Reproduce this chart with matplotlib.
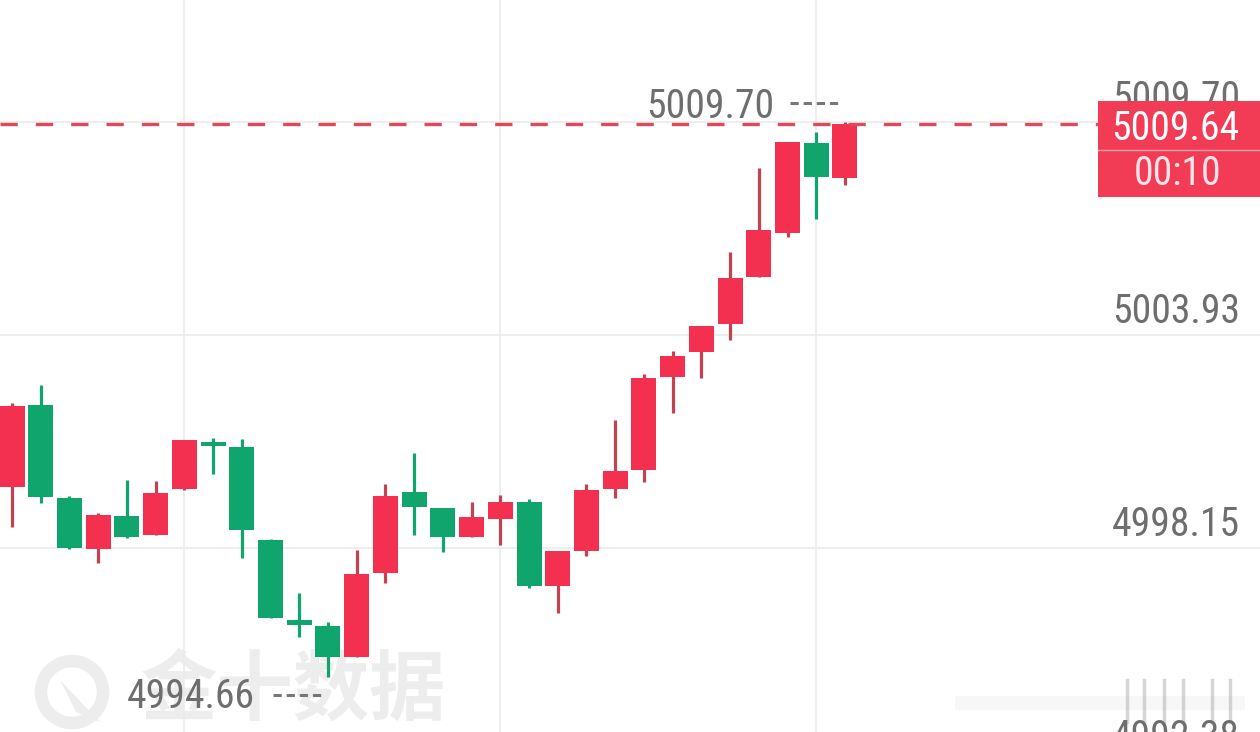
import matplotlib
matplotlib.use("Agg")
import matplotlib.pyplot as plt
from matplotlib import font_manager
from matplotlib.lines import Line2D
from matplotlib.patches import Rectangle, Ellipse, Polygon
from matplotlib.transforms import blended_transform_factory, IdentityTransform

# 1-minute candles, oldest first
opens = [4999.81, 5002.03, 4999.51, 4998.13, 4999.02, 4998.51, 4999.76, 5001.03, 5000.90, 4998.37,
         4996.21, 4996.04, 4995.20, 4997.48, 4999.68, 4999.24, 4998.46, 4998.94, 4999.40, 4997.13,
         4998.08, 4999.76, 5000.27, 5002.79, 5003.47, 5004.23, 5005.50, 5006.69, 5009.13, 5008.19]
highs = [5002.09, 5002.58, 4999.57, 4999.11, 5000.00, 4999.97, 5001.08, 5001.14, 5001.11, 4998.40,
         4996.94, 4996.15, 4998.10, 4999.89, 5000.73, 4999.24, 4999.40, 4999.59, 4999.49, 4998.08,
         4999.89, 5001.63, 5002.87, 5003.50, 5004.17, 5006.18, 5008.46, 5009.16, 5009.43, 5009.70]
lows = [4998.73, 4999.38, 4998.14, 4997.75, 4998.43, 4998.50, 4999.73, 5000.16, 4997.89, 4996.25,
        4995.75, 4994.66, 4995.19, 4997.21, 4998.51, 4998.05, 4998.45, 4998.24, 4997.07, 4996.40,
        4997.94, 4999.51, 4999.95, 5001.82, 5002.76, 5003.79, 5005.49, 5006.59, 5007.07, 5008.00]
closes = [5002.01, 4999.54, 4998.16, 4999.05, 4998.46, 4999.65, 5001.08, 5000.92, 4998.65, 4996.26,
          4996.07, 4995.20, 4997.45, 4999.57, 4999.27, 4998.46, 4999.00, 4999.40, 4997.13, 4998.08,
          4999.73, 5000.24, 5002.76, 5003.36, 5004.17, 5005.48, 5006.78, 5009.16, 5008.21, 5009.64]

price_ticks = [5009.70, 5003.93, 4998.15, 4992.38]
time_grid = [6, 17, 28]
countdown = "00:10"
watermark = "金十数据"

UP = "#f3304f"
UP_WICK = "#c4414f"
DOWN = "#10a56d"
TEXT = "#6e6e6e"
GRID = "#ebebeb"

# narrowest sans that is installed (the app uses a DIN-like face)
installed = {f.name for f in font_manager.fontManager.ttflist}
num_font = next((f for f in ["Roboto Condensed", "Liberation Sans Narrow", "Roboto"]
                 if f in installed), "DejaVu Sans")
plt.rcParams["font.family"] = [num_font, "DejaVu Sans"]
FS = 28.5

fig = plt.figure(figsize=(12.6, 7.32), dpi=100)
ax = fig.add_axes([0, 0, 1, 1])
for s in ax.spines.values():
    s.set_visible(False)
ax.set_xticks(time_grid)
ax.set_yticks(price_ticks)
ax.tick_params(length=0, labelleft=False, labelbottom=False)
ax.grid(True, color=GRID, lw=1.2, zorder=0)
ax.set_axisbelow(True)
# limits after the ticks, or set_yticks widens the view
ax.set_xlim(-0.418, 43.45)
ax.set_ylim(4993.17, 5013.01)

# watermarks
ax.text(140 / 1260, 1 - 692 / 732, watermark, transform=ax.transAxes,
        family=["Noto Sans CJK SC"], fontweight="bold", fontsize=55,
        color="#ededed", ha="left", va="center", zorder=0.5)
ax.add_patch(Ellipse((72 / 1260, 1 - 692 / 732), 62 / 1260, 62 / 732, transform=ax.transAxes,
                     fill=False, ec="#ededed", lw=9, zorder=0.5))
ax.add_patch(Polygon([(60 / 1260, 1 - 680 / 732), (100 / 1260, 1 - 722 / 732),
                      (76 / 1260, 1 - 712 / 732)], closed=True, transform=ax.transAxes,
                     fc="#ededed", ec="none", zorder=0.5))
ax.add_patch(Rectangle((955 / 1260, 1 - 710 / 732), 290 / 1260, 14 / 732,
                       transform=ax.transAxes, fc="#f7f7f7", ec="none", zorder=0.5))
for xp in [1127, 1144, 1164, 1183, 1212, 1230]:
    ax.plot([xp / 1260] * 2, [1 - 680 / 732, 1 - 722 / 732], transform=ax.transAxes,
            color="#8a8a8a", alpha=0.35, lw=2.5, zorder=0.6)

# candles
for i, (o, h, l, c) in enumerate(zip(opens, highs, lows, closes)):
    up = c >= o
    ax.vlines(i, l, h, color=UP_WICK if up else DOWN, lw=2.3, zorder=2)
    ax.bar(i, max(abs(c - o), 0.08), bottom=min(o, c), width=0.87,
           color=UP if up else DOWN, zorder=3)

# last price line
last = closes[-1]
ax.plot([-0.418, 37.9], [last, last], color="#dc4a5c", lw=2.4,
        dashes=(5.2, 5.4), zorder=4)

# price axis labels, baseline just above their grid lines
yblend = blended_transform_factory(ax.transAxes, ax.transData)
for p in price_ticks:
    ax.annotate(f"{p:.2f}", xy=(1, p), xycoords=yblend, xytext=(-14.4, 9),
                textcoords="offset points", ha="right", va="baseline",
                fontsize=FS, color=TEXT, zorder=5)

# current price box
ax.add_patch(Rectangle((1098 / 1260, 1 - 197 / 732), 162 / 1260, 96 / 732,
                       transform=ax.transAxes, fc="#f23b55", ec="none", zorder=6))
ax.plot([1098 / 1260, 1], [1 - 150 / 732] * 2, transform=ax.transAxes,
        color="#f6a3ae", lw=1, zorder=7)
ax.annotate(f"{last:.2f}", xy=(1, last), xycoords=yblend, xytext=(-15, -11),
            textcoords="offset points", ha="right", va="baseline",
            fontsize=FS, color="white", zorder=8)
ax.annotate(countdown, xy=(1178 / 1260, last), xycoords=yblend, xytext=(0, -43.5),
            textcoords="offset points", ha="center", va="baseline",
            fontsize=FS, color="#fde3e7", zorder=8)


# session high / low markers: value, then a short dashed leader to the candle
def extreme_label(i, price, text_dx, text_dy, dash_dy):
    ax.annotate(f"{price:.2f}", xy=(i, price), xytext=(text_dx / 1.389, text_dy / 1.389),
                textcoords="offset points", ha="right", va="baseline",
                fontsize=FS, color=TEXT, zorder=5)
    x0, y0 = ax.transData.transform((i, price))
    ax.add_line(Line2D([x0 - 55, x0 - 7], [y0 + dash_dy] * 2, transform=IdentityTransform(),
                       color="#777777", lw=2.2, dashes=(2.7, 1.6), zorder=5))


hi_i = highs.index(max(highs))
lo_i = lows.index(min(lows))
extreme_label(hi_i, max(highs), -71, 4, 19)
extreme_label(lo_i, min(lows), -73, -31, -18)

fig.savefig("out.png", dpi=100)
